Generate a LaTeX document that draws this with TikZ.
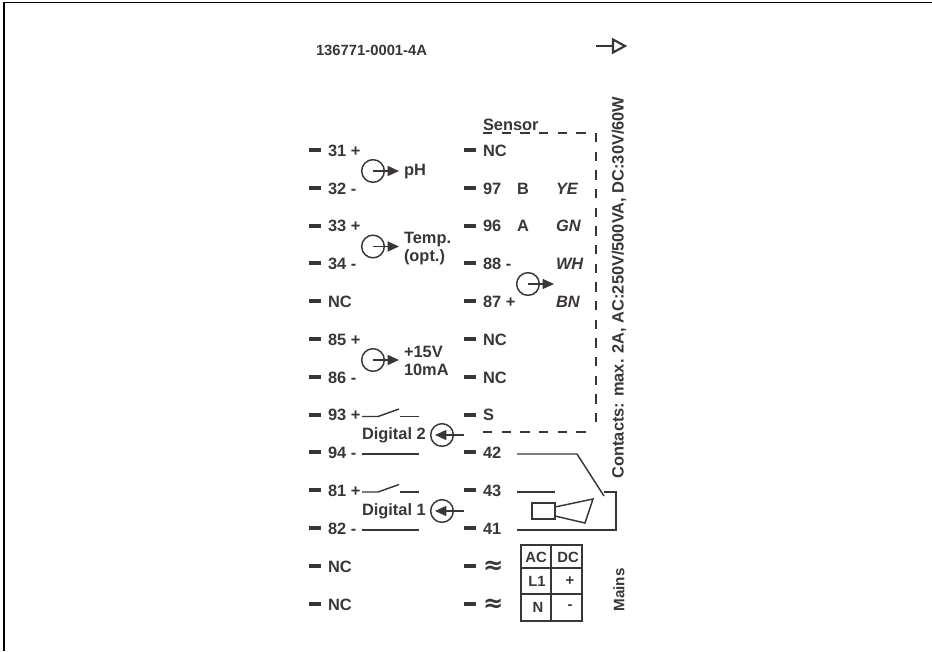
\documentclass[tikz,border=0pt]{standalone}
\usepackage{fontspec}
\setmainfont{Liberation Sans}
\newfontfamily\symfont{DejaVu Sans}
\usetikzlibrary{arrows.meta}
\definecolor{ink}{HTML}{3A3637}
\tikzset{
  every node/.style={text=ink,font=\fontsize{12.3}{14}\selectfont\bfseries},
  lab/.style={anchor=west,inner sep=0pt,outer sep=0pt},
  stack/.style={lab,align=left,font=\fontsize{12.3}{13.5}\selectfont\bfseries},
  ctr/.style={anchor=center,inner sep=0pt,outer sep=0pt,font=\fontsize{11.1}{13}\selectfont\bfseries},
  vert/.style={anchor=center,inner sep=0pt,outer sep=0pt,rotate=90},
  pin/.style={fill=ink,draw=none,minimum width=9.2pt,minimum height=3pt,inner sep=0pt,outer sep=0pt,anchor=west},
  wire/.style={draw=ink,line width=1.1pt},
  meter/.style={circle,draw=ink,line width=1.1pt,minimum size=17pt,inner sep=0pt,outer sep=0pt},
  flow/.style={draw=ink,line width=1pt,-{Triangle[length=8.5pt,width=7.5pt,fill=ink]}},
  dashline/.style={draw=ink,line width=1pt,dash pattern=on 7pt off 7pt},
  ital/.style={lab,font=\fontsize{12.3}{14}\selectfont\bfseries\itshape},
  cell/.style={draw=ink,line width=1.5pt},
}
\newcommand{\pinrow}[4]{%
  \node[pin] (p#1) at (#2,#3) {};
  \node[lab] (t#1) at (#2+19,#3+0.8) {#4};
}
\newcommand{\wavy}[3]{%
  \node[pin] (p#1) at (#2,#3) {};
  \node[lab,font=\symfont\fontsize{14}{14}\selectfont\bfseries,xscale=1.3,yscale=1.3] (t#1) at (#2+19,#3+1) {≈};
}
\begin{document}
\begin{tikzpicture}[x=0.75pt,y=-0.75pt]
\useasboundingbox (0,0) rectangle (932,651);
% frame
\coordinate (bl) at (4,651); \coordinate (tl) at (4,2.5); \coordinate (tr) at (932,2.5);
\draw[draw=black,line width=1.2pt] (bl) -- (tl) -- (tr);
% title and symbol
\node[lab,font=\fontsize{11.1}{13}\selectfont\bfseries] (title) at (316,50) {136771-0001-4A};
\coordinate (ta) at (596,46); \coordinate (tb) at (613,46);
\coordinate (tc) at (613,39.5); \coordinate (td) at (625,46); \coordinate (te) at (613,52.5);
\draw[wire] (ta) -- (tb);
\draw[draw=ink,line width=1.6pt,line join=miter] (tc) -- (td) -- (te) -- cycle;
% left pins
\pinrow{l1}{309}{150}{31 +}
\pinrow{l2}{309}{188}{32 -}
\pinrow{l3}{309}{225.5}{33 +}
\pinrow{l4}{309}{263}{34 -}
\pinrow{l5}{309}{301}{NC}
\pinrow{l6}{309}{339}{85 +}
\pinrow{l7}{309}{377}{86 -}
\pinrow{l8}{309}{414.5}{93 +}
\pinrow{l9}{309}{452}{94 -}
\pinrow{l10}{309}{490}{81 +}
\pinrow{l11}{309}{528}{82 -}
\pinrow{l12}{309}{566}{NC}
\pinrow{l13}{309}{604}{NC}
% right pins
\pinrow{r1}{464}{150}{NC}
\pinrow{r2}{464}{188}{97}
\pinrow{r3}{464}{225.5}{96}
\pinrow{r4}{464}{263}{88 -}
\pinrow{r5}{464}{301}{87 +}
\pinrow{r6}{464}{339}{NC}
\pinrow{r7}{464}{377}{NC}
\pinrow{r8}{464}{414.5}{S}
\pinrow{r9}{464}{452}{42}
\pinrow{r10}{464}{490}{43}
\pinrow{r11}{464}{528}{41}
\wavy{r12}{464}{566}
\wavy{r13}{464}{604}
% sensor labels
\node[lab] (sensor) at (483,124.5) {Sensor};
\node[lab] (lb) at (517,188.8) {B};
\node[lab] (la) at (517,226.3) {A};
\node[ital] (ye) at (556,188.8) {YE};
\node[ital] (gn) at (556,226.3) {GN};
\node[ital] (wh) at (556,263.8) {WH};
\node[ital] (bn) at (556,301.8) {BN};
% meters
\node[meter] (m1) at (373,171) {};
\coordinate (m1t) at (399,171);
\draw[flow] (m1.center) -- (m1t);
\node[lab] (ph) at (404,172) {pH};
\node[meter] (m2) at (373,246.5) {};
\coordinate (m2t) at (399,246.5);
\draw[flow] (m2.center) -- (m2t);
\node[stack] (temp) at (404,248.5) {Temp.\\(opt.)};
\node[meter] (m3) at (373,360) {};
\coordinate (m3t) at (399,360);
\draw[flow] (m3.center) -- (m3t);
\node[stack] (volt) at (404,360.5) {+15V\\10mA};
\node[meter] (m4) at (528,284) {};
\coordinate (m4t) at (554,284);
\draw[flow] (m4.center) -- (m4t);
% dashed sensor box
\coordinate (d1) at (483,133); \coordinate (d2) at (590,133);
\coordinate (d3) at (596,133); \coordinate (d4) at (596,430);
\coordinate (d5) at (483,432); \coordinate (d6) at (590,432);
\draw[dashline] (d1) -- (d2);
\draw[dashline] (d3) -- (d4);
\draw[dashline] (d5) -- (d6);
% digital inputs
\coordinate (s1a) at (362,416.5); \coordinate (s1b) at (378,416.5); \coordinate (s1c) at (399,409);
\coordinate (s1d) at (400,416.5); \coordinate (s1e) at (419,416.5);
\draw[wire] (s1a) -- (s1b) -- (s1c);
\draw[wire] (s1d) -- (s1e);
\coordinate (w2a) at (362,454); \coordinate (w2b) at (419,454);
\draw[wire] (w2a) -- (w2b);
\coordinate (s2a) at (362,492); \coordinate (s2b) at (378,492); \coordinate (s2c) at (399,484.5);
\coordinate (s2d) at (400,492); \coordinate (s2e) at (419,492);
\draw[wire] (s2a) -- (s2b) -- (s2c);
\draw[wire] (s2d) -- (s2e);
\coordinate (w1a) at (362,530); \coordinate (w1b) at (419,530);
\draw[wire] (w1a) -- (w1b);
\node[lab] (dig2) at (362,435) {Digital 2};
\node[lab] (dig1) at (362,511.5) {Digital 1};
\node[meter] (m5) at (442,435) {};
\coordinate (m5s) at (464,435); \coordinate (m5t) at (435,435);
\draw[flow] (m5s) -- (m5t);
\node[meter] (m6) at (442,511) {};
\coordinate (m6s) at (464,511); \coordinate (m6t) at (435,511);
\draw[flow] (m6s) -- (m6t);
% relay
\coordinate (c1) at (517,454); \coordinate (c2) at (577,454); \coordinate (c3) at (604,496);
\draw[wire] (c1) -- (c2) -- (c3);
\coordinate (c4) at (517,492); \coordinate (c5) at (555,492);
\draw[wire] (c4) -- (c5);
\coordinate (c6) at (517,530); \coordinate (c7) at (616,530); \coordinate (c8) at (616,492); \coordinate (c9) at (604,492);
\draw[wire] (c6) -- (c7) -- (c8) -- (c9);
\coordinate (h1) at (532,503); \coordinate (h2) at (555,519);
\draw[wire] (h1) rectangle (h2);
\coordinate (h3) at (555,507); \coordinate (h4) at (593,499); \coordinate (h5) at (585,523); \coordinate (h6) at (555,516);
\draw[wire] (h3) -- (h4) -- (h5) -- (h6);
% mains table
\coordinate (g1) at (521,545); \coordinate (g2) at (582,621);
\draw[cell] (g1) rectangle (g2);
\coordinate (g3) at (551,545); \coordinate (g4) at (551,621);
\draw[cell] (g3) -- (g4);
\coordinate (g5) at (521,568); \coordinate (g6) at (582,568);
\draw[cell] (g5) -- (g6);
\coordinate (g7) at (521,594); \coordinate (g8) at (582,594);
\draw[cell] (g7) -- (g8);
\node[ctr] (ac) at (536,557) {AC};
\node[ctr] (dc) at (568,557) {DC};
\node[ctr] (l1c) at (537,581) {L1};
\node[ctr] (plus) at (570,581) {+};
\node[ctr] (nc) at (538,607) {N};
\node[ctr] (minus) at (570,607) {-};
% side texts
\node[vert] (contacts) at (619,287.5) {Contacts: max. 2A, AC:250V/500VA, DC:30V/60W};
\node[vert,font=\fontsize{11.4}{13}\selectfont\bfseries] (mains) at (619,590) {Mains};
\end{tikzpicture}
\end{document}
